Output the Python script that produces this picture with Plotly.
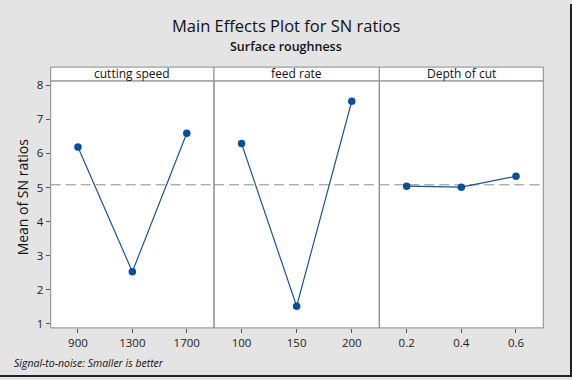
import plotly.graph_objects as go

factors = ["cutting speed", "feed rate", "Depth of cut"]
levels_speed = ["900", "1300", "1700"]
levels_feed = ["100", "150", "200"]
levels_depth = ["0.2", "0.4", "0.6"]
sn_speed = [6.19, 2.53, 6.59]
sn_feed = [6.29, 1.52, 7.53]
sn_depth = [5.04, 5.01, 5.33]
mean_sn = 5.08
y_ticks = [1, 2, 3, 4, 5, 6, 7, 8]

W, H = 572, 380
px_x = [50.7, 214.0, 379.3, 543.3]
y_top_px, y_bot_px, strip_top_px = 78.3, 330.0, 64.3
fx = lambda p: p / W
fy = lambda p: 1 - p / H

fig = go.Figure()
line_col = "#1a5592"
mark_col = "#0b4f9c"
font_fam = "Open Sans, Noto Sans, sans-serif"

levels = [levels_speed, levels_feed, levels_depth]
values = [sn_speed, sn_feed, sn_depth]
shapes = []
annotations = []
for i in range(3):
    xa = "x" if i == 0 else f"x{i+1}"
    fig.add_trace(go.Scatter(
        x=levels[i], y=values[i], xaxis=xa, yaxis="y", mode="lines+markers",
        line=dict(color=line_col, width=1.2),
        marker=dict(color=mark_col, size=7.5, symbol="circle"),
        showlegend=False, hoverinfo="skip"))
    ax = dict(domain=[fx(px_x[i]), fx(px_x[i + 1])], anchor="y", type="category",
              range=[-0.5, 2.5], showgrid=False, zeroline=False, showline=False,
              ticks="outside", ticklen=4, tickcolor="#555", tickwidth=1,
              tickfont=dict(family=font_fam, size=11.5, color="#222"),
              fixedrange=True)
    key = "xaxis" if i == 0 else f"xaxis{i+1}"
    fig.update_layout({key: ax})
    xref = xa + " domain"
    shapes.append(dict(type="line", xref=xref, yref="y", x0=0, x1=1, y0=mean_sn, y1=mean_sn,
                       line=dict(color="#8c8c8c", width=1, dash="10px,5px"), layer="below"))
    shapes.append(dict(type="rect", xref="paper", yref="paper",
                       x0=fx(px_x[i]), x1=fx(px_x[i + 1]), y0=fy(y_bot_px), y1=fy(y_top_px),
                       line=dict(color="#8a8a8a", width=1), fillcolor="rgba(0,0,0,0)", layer="above"))
    shapes.append(dict(type="rect", xref="paper", yref="paper",
                       x0=fx(px_x[i]), x1=fx(px_x[i + 1]), y0=fy(y_top_px), y1=fy(strip_top_px),
                       line=dict(color="#8a8a8a", width=1), fillcolor="white", layer="above"))
    annotations.append(dict(text=factors[i], xref="paper", yref="paper",
                            x=(fx(px_x[i]) + fx(px_x[i + 1])) / 2, y=fy(71),
                            xanchor="center", yanchor="middle", showarrow=False,
                            font=dict(family=font_fam, size=12, color="#111")))

annotations += [
    dict(text="Main Effects Plot for SN ratios", xref="paper", yref="paper", x=fx(286), y=fy(22),
         xanchor="center", yanchor="middle", showarrow=False,
         font=dict(family=font_fam, size=16.5, color="#111", weight=500)),
    dict(text="Surface roughness", xref="paper", yref="paper", x=fx(286), y=fy(43),
         xanchor="center", yanchor="middle", showarrow=False,
         font=dict(family=font_fam, size=12.5, color="#111", weight=600)),
    dict(text="<i>Signal-to-noise: Smaller is better</i>", xref="paper", yref="paper", x=fx(12), y=fy(366),
         xanchor="left", yanchor="middle", showarrow=False,
         font=dict(family=font_fam, size=10.5, color="#111")),
    dict(text="Mean of SN ratios", xref="paper", yref="paper", x=fx(22), y=fy(197),
         xanchor="center", yanchor="middle", showarrow=False, textangle=-90,
         font=dict(family=font_fam, size=14, color="#111")),
]

shapes.append(dict(type="line", xref="paper", yref="paper", x0=0, x1=1, y0=fy(379), y1=fy(379),
                   line=dict(color="#222", width=2)))
shapes.append(dict(type="line", xref="paper", yref="paper", x0=fx(571), x1=fx(571), y0=0, y1=1,
                   line=dict(color="#222", width=2)))

fig.update_layout(
    width=W, height=H, margin=dict(l=0, r=0, t=0, b=0),
    paper_bgcolor="#e4e4e4", plot_bgcolor="white",
    yaxis=dict(domain=[fy(y_bot_px), fy(y_top_px)], anchor="x", range=[0.885, 8.127],
               tickvals=y_ticks, showgrid=False, zeroline=False, showline=False,
               ticks="outside", ticklen=4, tickcolor="#555",
               tickfont=dict(family=font_fam, size=11.5, color="#222"), fixedrange=True),
    shapes=shapes, annotations=annotations,
)

fig.write_html("out.html", config={"displayModeBar": False},
               post_script="document.body.style.margin='0';document.body.style.padding='0';")
